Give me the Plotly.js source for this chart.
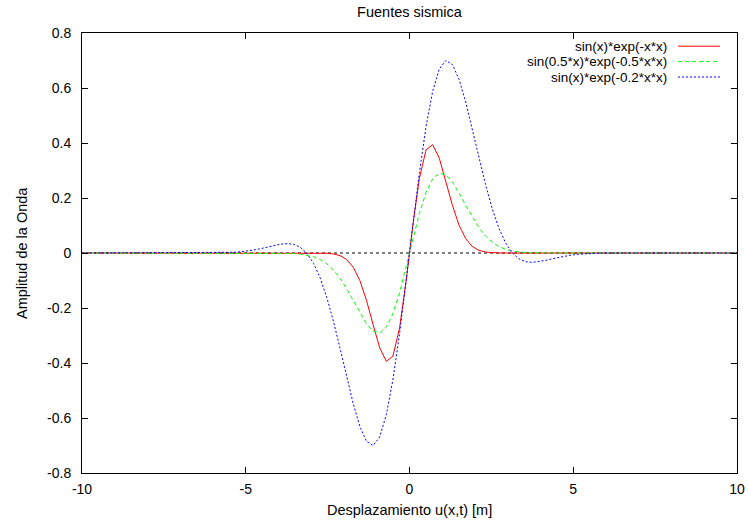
<!DOCTYPE html>
<html>
<head>
<meta charset="utf-8">
<script src="https://cdn.plot.ly/plotly-3.0.1.min.js"></script>
<style>html,body{margin:0;padding:0;background:#fff;}#chart{width:748px;height:525px;}</style>
</head>
<body>
<div id="chart"></div>
<script>
var xValues = [-10, -6.364, -6.162, -5.960, -5.758, -5.556, -5.354, -5.152, -4.949, -4.747, -4.545, -4.343, -4.141, -3.939, -3.737, -3.535, -3.333, -3.131, -2.929, -2.727, -2.525, -2.323, -2.121, -1.919, -1.717, -1.515, -1.313, -1.111, -0.909, -0.707, -0.505, -0.303, -0.101,
  0.101, 0.303, 0.505, 0.707, 0.909, 1.111, 1.313, 1.515, 1.717, 1.919, 2.121, 2.323, 2.525, 2.727, 2.929, 3.131, 3.333, 3.535, 3.737, 3.939, 4.141, 4.343, 4.545, 4.747, 4.949, 5.152, 5.354, 5.556, 5.758, 5.960, 6.162, 6.364, 10];

var seriesRed = [0, 0,0,0,0,0,0,0,0,0,0,0,0,0,0,0,0,0,0,
  -0.0002,-0.0010,-0.0033,-0.0095,-0.0236,-0.0519,-0.1005,-0.1724,-0.2607,-0.3452,-0.3940,-0.3749,-0.2722,-0.0998,
  0.0998,0.2722,0.3749,0.3940,0.3452,0.2607,0.1724,0.1005,0.0519,0.0236,0.0095,0.0033,0.0010,0.0002,
  0,0,0,0,0,0,0,0,0,0,0,0,0,0,0,0,0,0, 0];

var seriesGreen = [0, 0,0,0,0,0,0,0,0,0,0,
  -0.0001,-0.0002,-0.0004,-0.0009,-0.0019,-0.0038,-0.0074,-0.0136,-0.0237,-0.0393,-0.0617,-0.0920,-0.1299,-0.1733,-0.2181,-0.2577,-0.2845,-0.2904,-0.2696,-0.2199,-0.1442,-0.0502,
  0.0502,0.1442,0.2199,0.2696,0.2904,0.2845,0.2577,0.2181,0.1733,0.1299,0.0920,0.0617,0.0393,0.0237,0.0136,0.0074,0.0038,0.0019,0.0009,0.0004,0.0002,0.0001,
  0,0,0,0,0,0,0,0,0,0, 0];

var seriesBlue = [0, 0.0000,0.0001,0.0003,0.0007,0.0014,0.0026,0.0045,0.0072,0.0110,0.0158,0.0214,0.0273,0.0321,0.0343,0.0314,0.0206,-0.0014,-0.0380,-0.0911,-0.1617,-0.2482,-0.3467,-0.4500,-0.5485,-0.6308,-0.6848,-0.7000,-0.6688,-0.5878,-0.4598,-0.2930,-0.1006,
  0.1006,0.2930,0.4598,0.5878,0.6688,0.7000,0.6848,0.6308,0.5485,0.4500,0.3467,0.2482,0.1617,0.0911,0.0380,0.0014,-0.0206,-0.0314,-0.0343,-0.0321,-0.0273,-0.0214,-0.0158,-0.0110,-0.0072,-0.0045,-0.0026,-0.0014,-0.0007,-0.0003,-0.0001,0.0000, 0];

var seriesNames = ["sin(x)*exp(-x*x)", "sin(0.5*x)*exp(-0.5*x*x)", "sin(x)*exp(-0.2*x*x)"];
var xTickVals = [-10, -5, 0, 5, 10];
var xTickText = ["-10", "-5", "0", "5", "10"];
var yTickVals = [-0.8, -0.6, -0.4, -0.2, 0, 0.2, 0.4, 0.6, 0.8];
var yTickText = ["-0.8", "-0.6", "-0.4", "-0.2", "0", "0.2", "0.4", "0.6", "0.8"];

var colors = ["#ff0000", "#00ff00", "#0000ff"];
var dashes = ["solid", "4px,3px", "2px,2px"];
var ys = [seriesRed, seriesGreen, seriesBlue];

var traces = ys.map(function (y, i) {
  return {x: xValues, y: y, type: "scatter", mode: "lines", name: seriesNames[i],
    line: {color: colors[i], width: 1, dash: dashes[i]}, showlegend: false, hoverinfo: "skip"};
});

var FS = 14.5;
var legY = [0.970, 0.935, 0.900];
var annotations = [
  {text: "Desplazamiento u(x,t) [m]", xref: "paper", yref: "paper", x: 0.5, y: 0, yshift: -37, showarrow: false, xanchor: "center", yanchor: "middle", font: {size: FS}},
  {text: "Amplitud de la Onda", xref: "paper", yref: "paper", x: 0, y: 0.5, xshift: -60, textangle: -90, showarrow: false, xanchor: "center", yanchor: "middle", font: {size: FS}}
];
var shapes = [
  {type: "line", xref: "paper", yref: "y", x0: 0, x1: 1, y0: 0, y1: 0, layer: "below", line: {color: "#000", width: 1, dash: "dot"}}
];
seriesNames.forEach(function (n, i) {
  annotations.push({text: n, xref: "paper", yref: "paper", x: 0.8947, y: legY[i], showarrow: false, xanchor: "right", yanchor: "middle", borderpad: 0, font: {size: 13.5}});
  shapes.push({type: "line", xref: "paper", yref: "paper", x0: 0.910, x1: 0.974, y0: legY[i], y1: legY[i], line: {color: colors[i], width: 1, dash: dashes[i]}});
});

var axisCommon = {showgrid: false, zeroline: false, showline: true, linecolor: "#000", linewidth: 1, mirror: "allticks",
  ticks: "inside", ticklen: 6, tickcolor: "#000", tickwidth: 1, tickfont: {size: 14, color: "#000"}};

var layout = {
  width: 748, height: 525,
  margin: {l: 82, r: 11, t: 33, b: 52},
  paper_bgcolor: "#fff", plot_bgcolor: "#fff",
  font: {family: "Liberation Sans, Arial, sans-serif", size: FS, color: "#000"},
  title: {text: "Fuentes sismica", x: 0.5, xref: "paper", y: 0.977, yref: "container", yanchor: "middle", font: {size: FS}},
  xaxis: Object.assign({}, axisCommon, {range: [-10, 10], tickvals: xTickVals, ticktext: xTickText, ticklabelstandoff: 3}),
  yaxis: Object.assign({}, axisCommon, {range: [-0.8, 0.8], tickvals: yTickVals, ticktext: yTickText, ticklabelstandoff: 7}),
  annotations: annotations,
  shapes: shapes,
  showlegend: false
};

Plotly.newPlot("chart", traces, layout, {staticPlot: true, displayModeBar: false});
</script>
</body>
</html>
